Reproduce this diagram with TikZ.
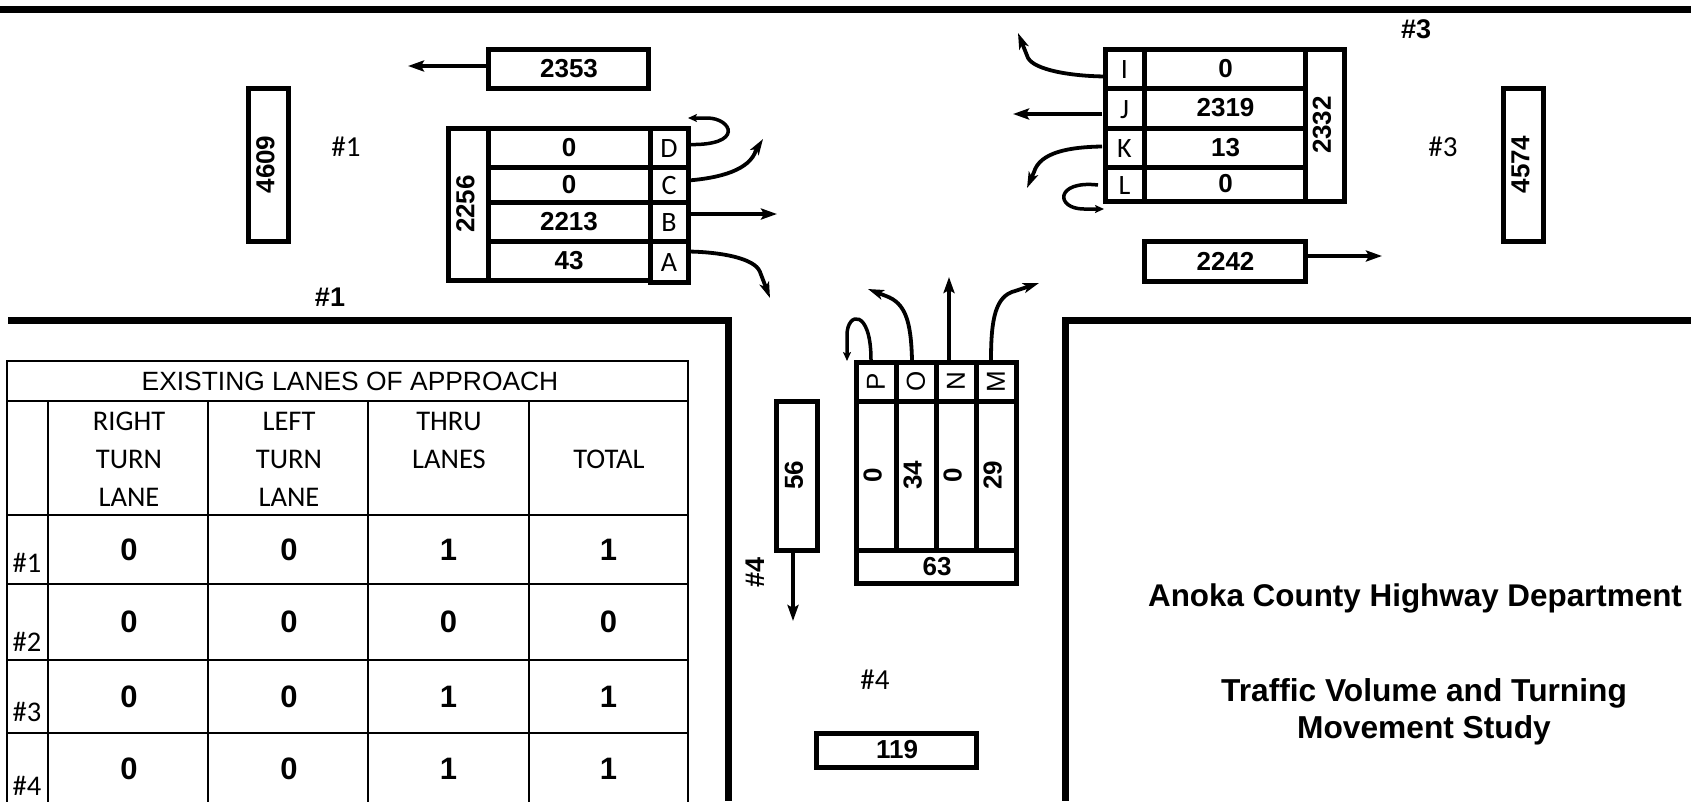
\documentclass[tikz,border=0pt]{standalone}
\usepackage{fontspec}
\setmainfont{Liberation Sans}
\newfontfamily\carfam{Carlito}
\usetikzlibrary{arrows.meta}
\newcommand{\cellbox}[7]{%
  \pgfmathsetmacro\cx{(#3+#5)/2}\pgfmathsetmacro\cy{(#4+#6)/2}%
  \pgfmathsetmacro\cw{#5-#3}\pgfmathsetmacro\ch{#6-#4}%
  \node[#1,minimum width=\cw pt,minimum height=\ch pt] (#2) at (\cx,\cy) {#7};}
\newcommand{\rotnum}[1]{\rotatebox{90}{#1}\kern5pt}
\newcommand{\rotcol}[1]{\rotatebox{90}{#1}\kern6.5pt}
\newcommand{\nudge}[1]{\kern2pt #1}
\tikzset{
  thick box/.style={draw=black,line width=5pt,inner sep=0pt,outer sep=0pt,font=\fontsize{26}{28}\selectfont\bfseries,text=black},
  letter/.style={thick box,font=\carfam\fontsize{28}{28}\selectfont,text height=20pt,text depth=0pt},
  sideletter/.style={thick box,font=\fontsize{26}{28}\selectfont},
  grid cell/.style={draw=black,line width=2pt,inner sep=0pt,outer sep=0pt,font=\fontsize{31}{32}\selectfont\bfseries},
  title cell/.style={grid cell,font=\fontsize{26.4}{28}\selectfont},
  head/.style={anchor=base,inner sep=0pt,font=\carfam\fontsize{28.5}{30}\selectfont},
  plain tag/.style={inner sep=0pt,font=\carfam\fontsize{29}{30}\selectfont},
  bold tag/.style={inner sep=0pt,font=\fontsize{27}{28}\selectfont\bfseries},
  road/.style={line width=7pt,draw=black,line cap=butt},
  flow/.style={line width=3.4pt,draw=black,-{Stealth[length=16pt,width=11pt,inset=3pt]}},
  curveflow/.style={line width=3.8pt,draw=black,-{Stealth[length=16pt,width=10pt,inset=4pt]}},
  uturn/.style={line width=3.5pt,draw=black,-{Stealth[length=9pt,width=8pt,inset=2pt]}},
  heading/.style={inner sep=0pt,align=center,font=\fontsize{31.4}{38}\selectfont\bfseries},
  subheading/.style={inner sep=0pt,align=center,font=\fontsize{31.7}{37.5}\selectfont\bfseries}
}
\begin{document}
\begin{tikzpicture}[x=1pt,y=-1pt]
\useasboundingbox (0,0) rectangle (1691,801);
% roads
\coordinate (topL) at (0,9.5); \coordinate (topR) at (1691,9.5);
\coordinate (lroadA) at (8,320); \coordinate (lroadB) at (728,320); \coordinate (lroadC) at (728,801);
\coordinate (rroadA) at (1691,320); \coordinate (rroadB) at (1065,320); \coordinate (rroadC) at (1065,801);
\draw[road] (topL) -- (topR);
\draw[road,line join=miter] (lroadA) -- (lroadB) -- (lroadC);
\draw[road,line join=miter] (rroadA) -- (rroadB) -- (rroadC);

% west approach
\cellbox{thick box}{b2353}{488}{49}{648}{88}{\nudge{2353}}
\cellbox{thick box}{b4609}{248}{88}{288}{241}{\rotnum{4609}}
\cellbox{thick box}{w2256}{448}{128}{488}{280}{\rotnum{2256}}
\cellbox{thick box}{wD}{488}{128}{650}{167}{0}
\cellbox{thick box}{wC}{488}{167}{650}{202}{0}
\cellbox{thick box}{wB}{488}{202}{650}{241}{2213}
\cellbox{thick box}{wA}{488}{241}{650}{280}{43}
\cellbox{letter}{lD}{650}{128}{688}{167}{D}
\cellbox{letter}{lC}{650}{167}{688}{202}{C}
\cellbox{letter}{lB}{650}{202}{688}{241}{B}
\cellbox{letter}{lA}{650}{241}{688}{282}{A}
\coordinate (t2353) at (408,66);
\draw[flow] (b2353.west |- t2353) -- (t2353);
\coordinate (tD) at (688,118);
\coordinate (tC) at (763,139);
\coordinate (tB) at (777,214);
\coordinate (tA) at (770,298);
\draw[uturn] ([yshift=3pt]lD.east) .. controls (745,146) and (732,118) .. (707,118) -- (tD);
\draw[curveflow] ([yshift=4pt]lC.east) .. controls (720,178) and (750,170) .. (756,150) -- (tC);
\draw[flow] (lB.east |- tB) -- (tB);
\draw[curveflow] ([yshift=10pt]lA.east) .. controls (720,252) and (755,258) .. (760,272) -- (tA);

% east approach
\cellbox{letter}{lI}{1105}{49}{1144}{88}{I}
\cellbox{letter}{lJ}{1105}{88}{1144}{128}{J}
\cellbox{letter}{lK}{1105}{128}{1144}{167}{K}
\cellbox{letter}{lL}{1105}{167}{1144}{201}{L}
\cellbox{thick box}{eI}{1144}{49}{1305}{88}{\nudge{0}}
\cellbox{thick box}{eJ}{1144}{88}{1305}{128}{\nudge{2319}}
\cellbox{thick box}{eK}{1144}{128}{1305}{167}{\nudge{13}}
\cellbox{thick box}{eL}{1144}{167}{1305}{201}{\nudge{0}}
\cellbox{thick box}{e2332}{1305}{49}{1344}{201}{\rotnum{2332}}
\cellbox{thick box}{b2242}{1144}{241}{1305}{281}{\nudge{2242}}
\cellbox{thick box}{b4574}{1503}{88}{1543}{241}{\rotnum{4574}}
\coordinate (tI) at (1018,33);
\coordinate (tJ) at (1013,114);
\coordinate (tK) at (1027,188);
\coordinate (tL) at (1104,209);
\coordinate (t2242) at (1382,256);
\draw[curveflow] ([yshift=-8pt]lI.west) .. controls (1070,76) and (1035,70) .. (1028,58) -- (tI);
\draw[flow] ([xshift=-3pt]lJ.west |- tJ) -- (tJ);
\draw[curveflow] ([xshift=-3pt,yshift=1pt]lK.west) .. controls (1070,147) and (1040,152) .. (1034,172) -- (tK);
\draw[uturn] ([xshift=-7pt,yshift=-1pt]lL.west) .. controls (1055,180) and (1055,209) .. (1084,209) -- (tL);
\draw[flow] (b2242.east |- t2242) -- (t2242);

% south approach
\cellbox{sideletter}{lP}{856}{362}{896}{401}{\rotatebox{90}{P}}
\cellbox{sideletter}{lO}{896}{362}{936}{401}{\rotatebox{90}{O}}
\cellbox{sideletter}{lN}{936}{362}{976}{401}{\rotatebox{90}{N}}
\cellbox{sideletter}{lM}{976}{362}{1016}{401}{\rotatebox{90}{M}}
\cellbox{thick box}{sP}{856}{401}{896}{550}{\rotcol{0}}
\cellbox{thick box}{sO}{896}{401}{936}{550}{\rotcol{34}}
\cellbox{thick box}{sN}{936}{401}{976}{550}{\rotcol{0}}
\cellbox{thick box}{sM}{976}{401}{1016}{550}{\rotcol{29}}
\cellbox{thick box}{s63}{856}{550}{1016}{583}{\nudge{63}}
\cellbox{thick box}{b56}{776}{401}{817}{550}{\rotnum{56}}
\cellbox{thick box}{b119}{816}{733}{976}{767}{\nudge{119}}
\coordinate (tP) at (847,361);
\coordinate (tO) at (868,289);
\coordinate (tN) at (949,277);
\coordinate (tM) at (1039,283);
\coordinate (t56) at (793,621);
\draw[uturn] ([xshift=-5pt,yshift=2pt]lP.north) .. controls (871,308) and (847,312) .. (847,335) -- (tP);
\draw[curveflow] ([xshift=-4pt,yshift=2pt]lO.north) .. controls (911,320) and (905,303) .. (886,296) -- (tO);
\draw[flow] ([yshift=2pt]lN.north -| tN) -- (tN);
\draw[curveflow] ([xshift=-5pt,yshift=2pt]lM.north) .. controls (991,320) and (995,296) .. (1015,291) -- (tM);
\draw[flow] (b56.south -| t56) -- (t56);

% existing lanes table
\cellbox{title cell}{tTitle}{7}{361}{688}{401}{\kern5pt EXISTING LANES OF APPROACH}
\cellbox{grid cell}{c00}{7}{401}{48}{515}{}
\cellbox{grid cell}{c01}{48}{401}{208}{515}{}
\cellbox{grid cell}{c02}{208}{401}{368}{515}{}
\cellbox{grid cell}{c03}{368}{401}{529}{515}{}
\cellbox{grid cell}{c04}{529}{401}{688}{515}{}
\node[head] (h1a) at (129,430) {RIGHT};
\node[head] (h1b) at (129,468) {TURN};
\node[head] (h1c) at (129,506) {LANE};
\node[head] (h2a) at (289,430) {LEFT};
\node[head] (h2b) at (289,468) {TURN};
\node[head] (h2c) at (289,506) {LANE};
\node[head] (h3a) at (449,430) {THRU};
\node[head] (h3b) at (449,468) {LANES};
\node[head] (h4) at (609,468) {TOTAL};
\cellbox{grid cell}{r1a}{7}{515}{48}{584}{}
\cellbox{grid cell}{r1b}{48}{515}{208}{584}{\nudge{0}}
\cellbox{grid cell}{r1c}{208}{515}{368}{584}{\nudge{0}}
\cellbox{grid cell}{r1d}{368}{515}{529}{584}{1}
\cellbox{grid cell}{r1e}{529}{515}{688}{584}{1}
\cellbox{grid cell}{r2a}{7}{584}{48}{660}{}
\cellbox{grid cell}{r2b}{48}{584}{208}{660}{\nudge{0}}
\cellbox{grid cell}{r2c}{208}{584}{368}{660}{\nudge{0}}
\cellbox{grid cell}{r2d}{368}{584}{529}{660}{0}
\cellbox{grid cell}{r2e}{529}{584}{688}{660}{0}
\cellbox{grid cell}{r3a}{7}{660}{48}{733}{}
\cellbox{grid cell}{r3b}{48}{660}{208}{733}{\nudge{0}}
\cellbox{grid cell}{r3c}{208}{660}{368}{733}{\nudge{0}}
\cellbox{grid cell}{r3d}{368}{660}{529}{733}{1}
\cellbox{grid cell}{r3e}{529}{660}{688}{733}{1}
\cellbox{grid cell}{r4a}{7}{733}{48}{805}{}
\cellbox{grid cell}{r4b}{48}{733}{208}{805}{\nudge{0}}
\cellbox{grid cell}{r4c}{208}{733}{368}{805}{\nudge{0}}
\cellbox{grid cell}{r4d}{368}{733}{529}{805}{1}
\cellbox{grid cell}{r4e}{529}{733}{688}{805}{1}
\node[head] (n1) at (27,572) {\#1};
\node[head] (n2) at (27,651) {\#2};
\node[head] (n3) at (27,721) {\#3};
\node[head] (n4) at (27,795) {\#4};

% tags
\node[plain tag] (p1) at (346,147) {\#1};
\node[plain tag] (p3) at (1443,147) {\#3};
\node[plain tag] (p4) at (875,680) {\#4};
\node[bold tag] (q1) at (330,297) {\#1};
\node[bold tag] (q3) at (1416,29) {\#3};
\node[bold tag,rotate=90] (q4) at (755,572) {\#4};

% heading
\node[heading] (h1) at (1415,598) {Anoka County Highway Department};
\node[subheading] (h2) at (1424,712) {Traffic Volume and Turning\\Movement Study};
\end{tikzpicture}
\end{document}
